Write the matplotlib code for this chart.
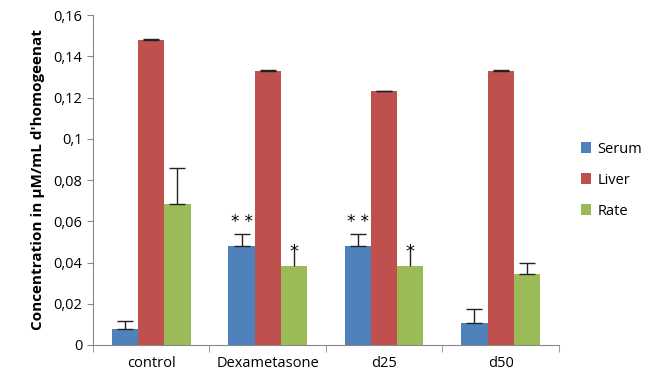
import numpy as np
import matplotlib.pyplot as plt
from matplotlib.ticker import FuncFormatter

# Data
groups = ["control", "Dexametasone", "d25", "d50"]
serum = [0.0078, 0.0481, 0.0481, 0.0108]
serum_err = [0.0038, 0.0059, 0.0059, 0.0065]
liver = [0.148, 0.133, 0.123, 0.133]
liver_err = [0.0003, 0.0003, 0.0003, 0.0003]
rate = [0.0684, 0.0383, 0.0383, 0.0344]
rate_err = [0.0176, 0.0090, 0.0090, 0.0052]
serum_stars = ["", "* *", "* *", ""]
rate_stars = ["", "*", "*", ""]

plt.rcParams["font.family"] = ["Open Sans", "DejaVu Sans"]

fig = plt.figure(figsize=(6.57, 3.77), dpi=100)
ax = fig.add_axes([0.1416, 0.0849, 0.709, 0.875])

x = np.arange(len(groups))
w = 0.225
err_kw = dict(ecolor="#222222", elinewidth=1.0, capsize=6, capthick=1.0)

ax.bar(x - w, serum, w, color="#4F81BD", label="Serum",
       yerr=[np.zeros(4), serum_err], error_kw=err_kw)
ax.bar(x, liver, w, color="#C0504D", label="Liver",
       yerr=[np.zeros(4), liver_err], error_kw=err_kw)
ax.bar(x + w, rate, w, color="#9BBB59", label="Rate")

# rate error bars: the starred ones have the asterisk in place of a cap
for i in range(len(groups)):
    ax.errorbar(x[i] + w, rate[i], yerr=[[0], [rate_err[i]]], fmt="none",
                ecolor="#222222", elinewidth=1.0, capthick=1.0,
                capsize=0 if rate_stars[i] else 6)

# significance marks
for i in range(len(groups)):
    if serum_stars[i]:
        ax.text(x[i] - w, serum[i] + serum_err[i] + 0.0012, serum_stars[i],
                ha="center", va="bottom", fontsize=12, family="DejaVu Sans")
    if rate_stars[i]:
        ax.text(x[i] + w, rate[i] + rate_err[i] - 0.0065, rate_stars[i],
                ha="center", va="bottom", fontsize=13, family="DejaVu Sans")

ax.set_xlim(-0.5, len(groups) - 0.5)
ax.set_ylim(0, 0.16)
ax.set_yticks(np.arange(0, 0.161, 0.02))
ax.yaxis.set_major_formatter(FuncFormatter(
    lambda v, p: "0" if v == 0 else ("%g" % round(v, 2)).replace(".", ",")))
ax.set_xticks(x)
ax.set_xticklabels(groups)
ax.set_xticks(np.arange(-0.5, len(groups)), minor=True)
ax.tick_params(axis="x", which="major", length=0, labelsize=10.5, pad=8)
ax.tick_params(axis="x", which="minor", length=5, color="#888888")
ax.tick_params(axis="y", length=4, color="#888888", labelsize=10.5)

for s in ["top", "right"]:
    ax.spines[s].set_visible(False)
for s in ["left", "bottom"]:
    ax.spines[s].set_color("#888888")

ax.set_ylabel("Concentration in µM/mL d'homogeenat", fontweight="bold",
              fontsize=11, labelpad=6)

ax.legend(loc="center left", bbox_to_anchor=(1.02, 0.5), frameon=False,
          fontsize=10.5, handlelength=0.7, handleheight=0.7,
          labelspacing=1.1, handletextpad=0.4)

fig.savefig("out.png", dpi=100)
